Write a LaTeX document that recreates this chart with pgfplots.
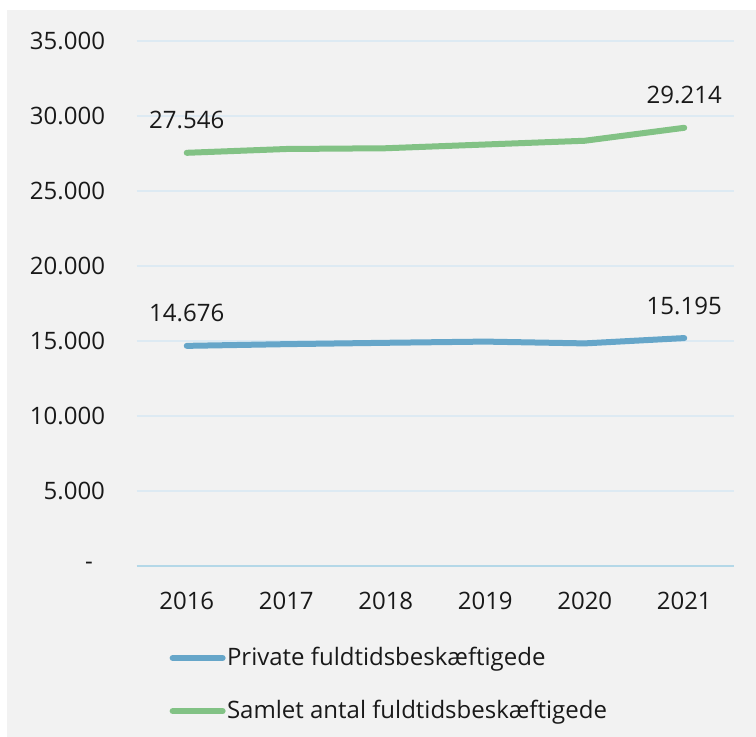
\documentclass[border=0pt]{standalone}
\usepackage{pgfplots}
\pgfplotsset{compat=1.18}
\usepackage{fontspec}
\setmainfont{Open Sans}
\definecolor{PanelGray}{HTML}{F2F2F2}
\definecolor{GridBlue}{HTML}{DDEAF3}
\definecolor{ZeroBlue}{HTML}{B4D8E8}
\definecolor{LineBlue}{HTML}{66A6C9}
\definecolor{LineGreen}{HTML}{82C285}

\pgfplotstableread{
x y lbl
0 14676 14.676
1 14790 {}
2 14880 {}
3 14960 {}
4 14840 {}
5 15195 15.195
}\privat

\pgfplotstableread{
x y lbl
0 27546 27.546
1 27800 {}
2 27850 {}
3 28100 {}
4 28350 {}
5 29214 29.214
}\samlet

\begin{document}
\begin{tikzpicture}
\useasboundingbox (-68.5bp,-85.5bp) rectangle (309.5bp,283bp);
\fill[white] (-68.5bp,-85.5bp) rectangle (309.5bp,283bp);
\fill[PanelGray] (-65bp,-85.5bp) rectangle (309.5bp,278bp);
\begin{axis}[
  at={(0,0)}, anchor=south west,
  scale only axis,
  width=298.5bp, height=262.5bp,
  xmin=-0.5, xmax=5.5,
  ymin=0, ymax=35000,
  clip=false,
  scaled y ticks=false,
  axis line style={draw=none},
  major tick length=0pt,
  xtick={0,...,5},
  xticklabels={2016,2017,2018,2019,2020,2021},
  ytick={0,5000,...,35000},
  yticklabels={-\kern6bp,5.000,10.000,15.000,20.000,25.000,30.000,35.000},
  extra y ticks={0},
  extra y tick labels={},
  extra y tick style={grid style={ZeroBlue, line width=0.9bp}},
  ymajorgrids=true,
  grid style={GridBlue, line width=0.75bp},
  every tick label/.append style={font=\fontsize{12bp}{14bp}\selectfont, text=black!90},
  yticklabel style={xshift=-12.5bp},
  xticklabel style={yshift=-9.5bp},
  nodes near coords,
  point meta=explicit symbolic,
  nodes near coords style={font=\fontsize{12bp}{14bp}\selectfont, text=black!90, anchor=south, yshift=7bp},
  legend style={at={(axis description cs:0.044,-0.142)}, anchor=north west,
    draw=none, fill=none, font=\fontsize{12bp}{14bp}\selectfont,
    row sep=13.5bp, column sep=-0.5bp, nodes={inner sep=1.2bp, text=black!90}},
  legend cell align=left,
  legend image code/.code={\draw[#1, line width=3bp, line cap=round] (0bp,0bp) -- (25bp,0bp);},
]
\addplot[LineBlue, line width=3bp, line cap=round, line join=round] table[x=x, y=y, meta=lbl] {\privat};
\addplot[LineGreen, line width=3bp, line cap=round, line join=round] table[x=x, y=y, meta=lbl] {\samlet};
\legend{Private fuldtidsbeskæftigede, Samlet antal fuldtidsbeskæftigede}
\end{axis}
\end{tikzpicture}
\end{document}
